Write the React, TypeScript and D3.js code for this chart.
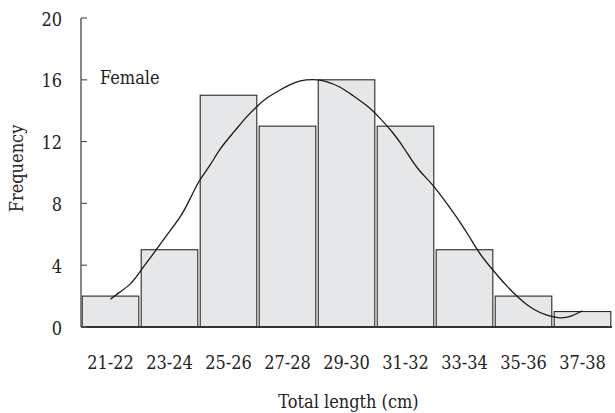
import React from "react";
import * as d3 from "d3";

// Length classes (cm) and their observed frequencies
const categories = ["21-22", "23-24", "25-26", "27-28", "29-30", "31-32", "33-34", "35-36", "37-38"];
const frequencies = [2, 5, 15, 13, 16, 13, 5, 2, 1];
const yTicks = [0, 4, 8, 12, 16, 20];

// Fitted frequency curve: total length (cm) and fitted frequency
const curveLength = [21.5, 21.8, 22.2, 22.5, 23.0, 23.4, 23.9, 24.2, 24.5, 24.9, 25.2, 25.7, 26.1, 26.5, 26.8, 27.25, 27.6, 27.9, 28.4, 28.8, 29.3, 29.7, 30.2, 30.6, 31.1, 31.5, 31.9, 32.4, 32.9, 33.35, 33.7, 34.0, 34.5, 34.9, 35.4, 35.8, 36.3, 36.75, 37.1, 37.5];
const curveFreq = [1.8, 2.25, 2.75, 3.6, 4.85, 5.95, 7.15, 8.3, 9.5, 10.5, 11.55, 12.65, 13.6, 14.35, 14.85, 15.35, 15.7, 15.95, 16.05, 15.92, 15.55, 15.0, 14.35, 13.6, 12.55, 11.45, 10.2, 9.3, 8.0, 6.8, 5.75, 4.75, 3.6, 2.7, 1.75, 1.15, 0.72, 0.55, 0.66, 1.05];

const W = 615;
const H = 413;
const left = 81;
const right = 612;
const top = 18;
const bottom = 327;
const font = "'DejaVu Serif Condensed', 'Liberation Serif', serif";
const fs = 18;

export default function App() {
  const x = d3.scaleBand<string>().domain(categories).range([left, right]).padding(0);
  const xLen = d3.scaleLinear().domain([20.5, 38.5]).range([left, right]);
  const y = d3.scaleLinear().domain([0, 20]).range([bottom, top]);

  const pts: [number, number][] = curveLength.map((l, i) => [l, curveFreq[i]]);
  const line = d3
    .line<[number, number]>()
    .x((d) => xLen(d[0]))
    .y((d) => y(d[1]))
    .curve(d3.curveBasis);

  const bw = x.bandwidth();

  return (
    <svg
      width={W}
      height={H}
      style={{ position: "absolute", left: 0, top: 0, background: "#fff" }}
      fontFamily={font}
    >
      {/* bars */}
      {categories.map((c, i) => (
        <rect
          key={c}
          x={(x(c) as number) + 1.2}
          y={y(frequencies[i])}
          width={bw - 2.4}
          height={y(0) - y(frequencies[i])}
          fill="#e6e7e8"
          stroke="#2a2a2a"
          strokeWidth={1.1}
        />
      ))}

      {/* fitted curve */}
      <path d={line(pts) || ""} fill="none" stroke="#1a1a1a" strokeWidth={1.3} />

      {/* axes */}
      <line x1={left} x2={left} y1={top} y2={bottom} stroke="#555" strokeWidth={1.4} />
      <line x1={left} x2={right} y1={bottom} y2={bottom} stroke="#333" strokeWidth={1.8} />
      {yTicks.map((t) => (
        <g key={t}>
          <line x1={left} x2={left + 6} y1={y(t)} y2={y(t)} stroke="#555" strokeWidth={1.2} />
          <text x={62} y={y(t)} dy="0.42em" textAnchor="end" fontSize={fs} fill="#222">
            {t}
          </text>
        </g>
      ))}
      {categories.map((c) => (
        <text
          key={c}
          x={(x(c) as number) + bw / 2}
          y={369}
          textAnchor="middle"
          fontSize={fs}
          fill="#222"
        >
          {c}
        </text>
      ))}

      <text x={100} y={84} fontSize={fs} fill="#222">
        Female
      </text>
      <text
        transform={`translate(23, ${(top + bottom) / 2 - 4}) rotate(-90)`}
        textAnchor="middle"
        fontSize={fs}
        fill="#222"
      >
        Frequency
      </text>
      <text x={(left + right) / 2 + 2} y={408} textAnchor="middle" fontSize={fs} fill="#222">
        Total length (cm)
      </text>
    </svg>
  );
}
